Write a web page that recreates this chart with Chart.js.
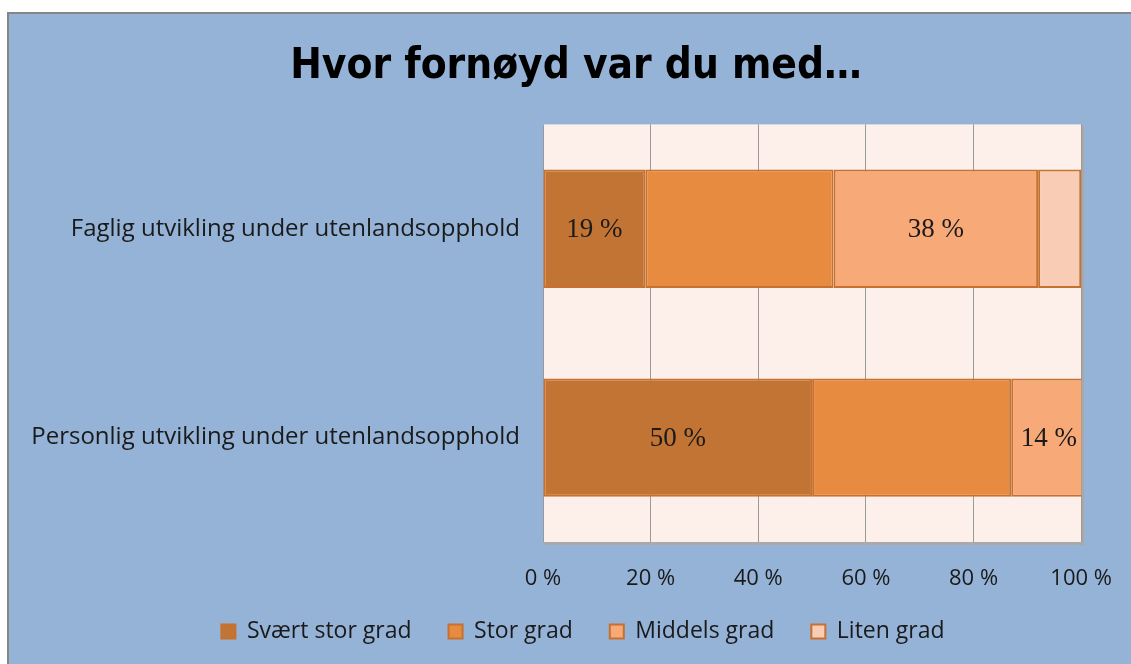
<!DOCTYPE html>
<html>
<head>
<meta charset="utf-8">
<script src="https://cdn.jsdelivr.net/npm/chart.js@4"></script>
<style>
  html, body { margin: 0; padding: 0; background: #ffffff; overflow: hidden; }
  #wrap {
    position: absolute; left: 7px; top: 12px;
    width: 1130px; height: 660px;
    background: #95b3d7;
    border-top: 2px solid #858585;
    border-left: 2px solid #858585;
    overflow: hidden;
  }
  canvas { display: block; }
</style>
</head>
<body>
<div id="wrap"><canvas id="chart" width="1127" height="650"></canvas></div>
<script>
// kategorier og verdier (prosent)
const categories = ['Faglig utvikling under utenlandsopphold', 'Personlig utvikling under utenlandsopphold'];
const seriesNames = ['Svært stor grad', 'Stor grad', 'Middels grad', 'Liten grad'];
const svaertStor = [19, 50];
const stor = [35, 37];
const middels = [38, 14];
const liten = [8, 0];
// hvilke segmenter som har synlig etikett
const showLabels = [[true, true], [false, false], [true, true], [false, false]];
const xTicks = [0, 20, 40, 60, 80, 100];

const fills = ['#c27434', '#e78b41', '#f7a978', '#f9cdb5'];
const edge = '#c6712f';

// bakgrunn for plottområdet
const plotBg = {
    id: 'plotBg',
    beforeDraw(chart) {
        const a = chart.chartArea;
        const c = chart.ctx;
        c.save();
        c.fillStyle = '#a9a9a9';
        c.fillRect(a.left + 2, a.top + 2, a.right - a.left + 1, a.bottom - a.top + 1);
        c.fillStyle = '#fdf0eb';
        c.fillRect(a.left, a.top, a.right - a.left, a.bottom - a.top);
        c.restore();
    }
};

// flytt tittel og forklaring mot midten, og gi akseetikettene plass
const shiftBoxes = {
    id: 'shiftBoxes',
    afterLayout(chart) {
        chart.titleBlock.left += 52;
        chart.legend.left += 66;
        chart.scales.x.bottom += 30;
    }
};

// prosentetiketter midt i segmentene
const segLabels = {
    id: 'segLabels',
    afterDatasetsDraw(chart) {
        const c = chart.ctx;
        c.save();
        c.font = '27px "Liberation Serif", "DejaVu Serif", serif';
        c.fillStyle = '#1a1a1a';
        c.textAlign = 'center';
        c.textBaseline = 'middle';
        chart.data.datasets.forEach((ds, i) => {
            chart.getDatasetMeta(i).data.forEach((bar, j) => {
                if (!showLabels[i][j] || !ds.data[j]) return;
                const x = (bar.x + bar.base) / 2;
                c.fillText(ds.data[j] + ' %', x, bar.y + 1);
            });
        });
        c.restore();
    }
};

const allSeries = [svaertStor, stor, middels, liten];

new Chart(document.getElementById('chart').getContext('2d'), {
    type: 'bar',
    data: {
        labels: categories,
        datasets: allSeries.map((vals, i) => ({
            label: seriesNames[i],
            data: vals,
            backgroundColor: fills[i],
            borderColor: edge,
            borderWidth: 2,
            borderSkipped: false,
            categoryPercentage: 0.567,
            barPercentage: 1
        }))
    },
    options: {
        indexAxis: 'y',
        responsive: false,
        animation: false,
        devicePixelRatio: 1,
        layout: { padding: { left: 0, right: 45, top: 0, bottom: 11 } },
        plugins: {
            title: {
                display: true,
                text: 'Hvor fornøyd var du med…',
                color: '#000000',
                font: { family: '"Liberation Sans Narrow", "DejaVu Sans Condensed", "Liberation Sans", sans-serif', size: 42, weight: 'bold' },
                padding: { top: 28, bottom: 32 }
            },
            legend: {
                position: 'bottom',
                labels: {
                    color: '#1a1a1a',
                    font: { family: '"Open Sans", sans-serif', size: 23 },
                    boxWidth: 14,
                    boxHeight: 14,
                    padding: 37
                }
            },
            tooltip: { enabled: false }
        },
        scales: {
            x: {
                stacked: true,
                min: 0,
                max: 100,
                afterBuildTicks(scale) {
                    scale.ticks = xTicks.map(v => ({ value: v }));
                },
                afterFit(scale) { scale.height = 41; },
                ticks: {
                    color: '#1a1a1a',
                    font: { family: '"Open Sans", sans-serif', size: 22 },
                    padding: 24,
                    callback: v => v + ' %'
                },
                grid: { color: '#9a9a9a', lineWidth: 1, drawTicks: false },
                border: { display: false }
            },
            y: {
                stacked: true,
                afterFit(scale) { scale.width = 534; },
                ticks: {
                    color: '#1a1a1a',
                    font: { family: '"Open Sans", sans-serif', size: 24 },
                    padding: 15
                },
                grid: { display: false },
                border: { display: false }
            }
        }
    },
    plugins: [plotBg, shiftBoxes, segLabels]
});
</script>
</body>
</html>
